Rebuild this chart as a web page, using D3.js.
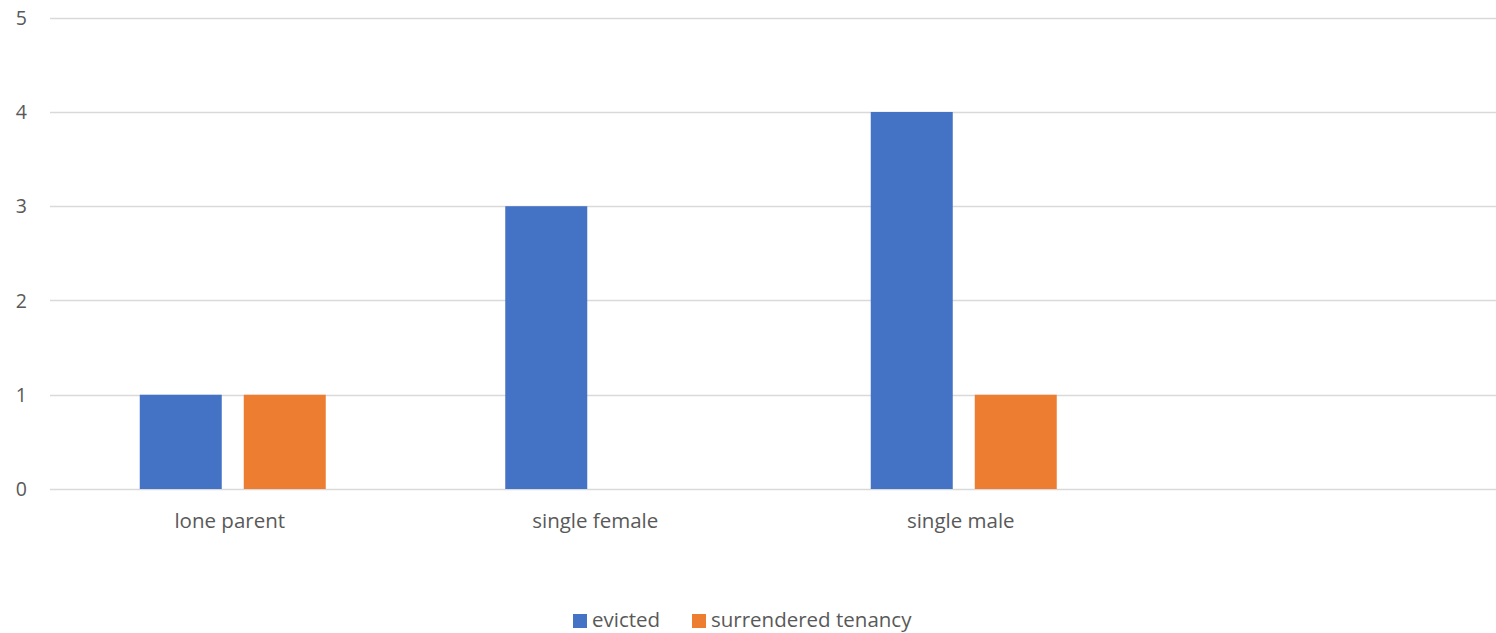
<!DOCTYPE html>
<html><head><meta charset="utf-8">
<script src="https://cdn.jsdelivr.net/npm/d3@7"></script>
<style>
html,body{margin:0;padding:0;background:#fff;}
svg{display:block;font-family:"Open Sans",sans-serif;}
</style></head>
<body>
<svg id="c" width="1496" height="633"></svg>
<script>
const categories = ["lone parent", "single female", "single male", ""];
const seriesNames = ["evicted", "surrendered tenancy"];
const evicted = [1, 3, 4, null];
const surrendered = [1, null, 1, null];
const yTicks = [0, 1, 2, 3, 4, 5];
const colors = ["#4472C4", "#ED7D31"];

(function () {
const svg = d3.select("#c");
const mLeft = 50, mRight = 1512, mTop = 17.7, mBottom = 489;
const x = d3.scaleBand().domain(categories).range([mLeft, mRight]).paddingInner(0).paddingOuter(0);
const y = d3.scaleLinear().domain([0, 5]).range([mBottom, mTop]);
const bw = 82, gap = 22;
const groupW = 2 * bw + gap;

// gridlines
svg.append("g").selectAll("line").data(yTicks).join("line")
  .attr("x1", mLeft).attr("x2", mRight)
  .attr("y1", d => Math.round(y(d)) + 0.5).attr("y2", d => Math.round(y(d)) + 0.5)
  .attr("stroke", "#d9d9d9").attr("stroke-width", 1.3);

// y labels
svg.append("g").selectAll("text").data(yTicks).join("text")
  .attr("x", 27).attr("y", d => y(d)).attr("dy", "0.36em")
  .attr("text-anchor", "end").attr("fill", "#595959").attr("font-size", 19.5)
  .text(d => d);

const series = [evicted, surrendered];
series.forEach((vals, si) => {
  svg.append("g").selectAll("rect").data(categories.map((c, i) => ({c, v: vals[i]})).filter(d => d.v != null))
    .join("rect")
    .attr("x", d => x(d.c) + x.bandwidth() / 2 - groupW / 2 + si * (bw + gap))
    .attr("width", bw)
    .attr("y", d => y(d.v))
    .attr("height", d => y(0) - y(d.v))
    .attr("fill", colors[si]);
});

// x labels
svg.append("g").selectAll("text").data(categories).join("text")
  .attr("x", d => x(d) + x.bandwidth() / 2 - 3).attr("y", 521).attr("dy", "0.36em")
  .attr("text-anchor", "middle").attr("fill", "#595959").attr("font-size", 20.5)
  .text(d => d);

// legend
const legX = [573, 692];
seriesNames.forEach((n, i) => {
  svg.append("rect").attr("x", legX[i]).attr("y", 614).attr("width", 14).attr("height", 14).attr("fill", colors[i]);
  svg.append("text").attr("x", legX[i] + 19).attr("y", 620).attr("dy", "0.36em")
    .attr("fill", "#595959").attr("font-size", 20.5).text(n);
});
})();
</script>
</body></html>
